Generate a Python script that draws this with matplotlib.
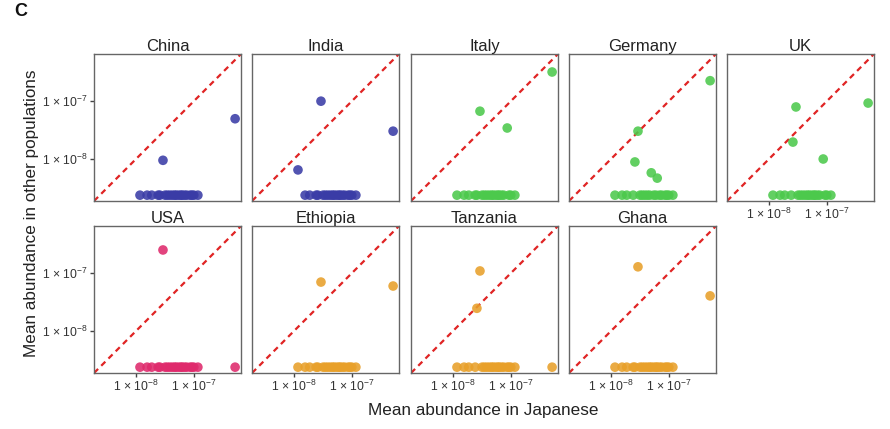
import numpy as np
import matplotlib
matplotlib.use("Agg")
import matplotlib.pyplot as plt
from matplotlib.ticker import FixedLocator, NullLocator

plt.rcParams['font.family'] = ['Liberation Sans', 'DejaVu Sans']
plt.rcParams['mathtext.default'] = 'regular'

# Mean abundance in Japanese (shared species set, 22 species)
japanese = [1.17e-8, 1.55e-8, 1.86e-8, 2.4e-8, 2.57e-8, 2.9e-8, 3.15e-8, 3.45e-8,
            3.8e-8, 4.2e-8, 4.6e-8, 4.9e-8, 5.4e-8, 5.9e-8, 6.2e-8, 6.8e-8,
            7.4e-8, 8.5e-8, 9.1e-8, 9.8e-8, 1.15e-7, 5.0e-7]

# Mean abundance in other populations (0 = not detected), same species order
#            0       1  2  3  4        5        6  7  8  9  10 11      12 13 14      15 16 17      18 19 20 21
china    = [0,      0, 0, 0, 0,       9.5e-9,  0, 0, 0, 0, 0, 0,      0, 0, 0,      0, 0, 0,      0, 0, 0, 4.9e-8]
india    = [6.5e-9, 0, 0, 0, 0,       9.8e-8,  0, 0, 0, 0, 0, 0,      0, 0, 0,      0, 0, 0,      0, 0, 0, 3.0e-8]
italy    = [0,      0, 0, 0, 0,       6.6e-8,  0, 0, 0, 0, 0, 0,      0, 0, 0,      0, 0, 3.4e-8, 0, 0, 0, 3.1e-7]
germany  = [0,      0, 0, 0, 8.9e-9,  3.0e-8,  0, 0, 0, 0, 0, 5.8e-9, 0, 0, 4.7e-9, 0, 0, 0,      0, 0, 0, 2.2e-7]
uk       = [0,      0, 0, 0, 1.95e-8, 7.8e-8,  0, 0, 0, 0, 0, 0,      0, 0, 0,      0, 0, 1.0e-8, 0, 0, 0, 9.1e-8]
usa      = [0,      0, 0, 0, 0,       2.45e-7, 0, 0, 0, 0, 0, 0,      0, 0, 0,      0, 0, 0,      0, 0, 0, 0]
ethiopia = [0,      0, 0, 0, 0,       6.9e-8,  0, 0, 0, 0, 0, 0,      0, 0, 0,      0, 0, 0,      0, 0, 0, 5.9e-8]
tanzania = [0,      0, 0, 0, 2.45e-8, 1.07e-7, 0, 0, 0, 0, 0, 0,      0, 0, 0,      0, 0, 0,      0, 0, 0, 0]
ghana    = [0,      0, 0, 0, 0,       1.26e-7, 0, 0, 0, 0, 0, 0,      0, 0, 0,      0, 0, 0,      0, 0, 0, 4.0e-8]

populations = ["China", "India", "Italy", "Germany", "UK",
               "USA", "Ethiopia", "Tanzania", "Ghana"]
values = [china, india, italy, germany, uk, usa, ethiopia, tanzania, ghana]
colors = ["#3a3ca6", "#3a3ca6", "#4cc94c", "#4cc94c", "#4cc94c",
          "#df2a6c", "#e8a02a", "#e8a02a", "#e8a02a"]

zero_floor = 10 ** -8.62
lo, hi = 10 ** -8.72, 10 ** -6.2
ticks = [1e-8, 1e-7]
tick_labels = [r'1 × 10$^{-8}$', r'1 × 10$^{-7}$']

W, H = 890, 429
fig = plt.figure(figsize=(W / 100, H / 100), dpi=100)

lefts = [94, 252, 411, 569, 727]
tops = [54, 226]
size = 147

for i, (name, vals, col) in enumerate(zip(populations, values, colors)):
    r, c = divmod(i, 5)
    ax = fig.add_axes([lefts[c] / W, 1 - (tops[r] + size) / H, size / W, size / H])
    ax.set_xscale('log')
    ax.set_yscale('log')
    ax.set_xlim(lo, hi)
    ax.set_ylim(lo, hi)
    ax.plot([lo, hi], [lo, hi], color='#e02424', lw=1.6, dashes=(2.6, 2.0), zorder=1)
    x = np.array(japanese)
    y = np.array(vals, dtype=float)
    y = np.where(y > 0, y, zero_floor)
    ax.scatter(x, y, s=48, color=col, alpha=0.88, edgecolors='none', zorder=3, clip_on=False)
    ax.set_title(name, fontsize=12, pad=2, color='#222222')
    for sp in ax.spines.values():
        sp.set_color('#666666')
        sp.set_linewidth(1.0)
    ax.xaxis.set_minor_locator(NullLocator())
    ax.yaxis.set_minor_locator(NullLocator())
    ax.xaxis.set_major_locator(FixedLocator(ticks))
    ax.yaxis.set_major_locator(FixedLocator(ticks))
    show_x = (r == 1) or (c == 4)
    show_y = (c == 0)
    ax.tick_params(axis='both', which='major', length=3, width=1, color='#444444',
                   labelsize=8.8, labelcolor='#333333', pad=1.5)
    if show_x:
        ax.set_xticklabels(tick_labels)
    else:
        ax.tick_params(axis='x', length=0, labelbottom=False)
    if show_y:
        ax.set_yticklabels(tick_labels)
    else:
        ax.tick_params(axis='y', length=0, labelleft=False)

fig.text(32 / W, 1 - 213 / H, "Mean abundance in other populations", rotation=90,
         ha='center', va='center', fontsize=12.3, color='#222222')
fig.text(483 / W, 1 - 410 / H, "Mean abundance in Japanese",
         ha='center', va='center', fontsize=12.3, color='#222222')
fig.text(14 / W, 1 - 11 / H, "C", ha='left', va='center', fontsize=13,
         fontweight='bold', color='#111111')

fig.savefig("out.png", dpi=100)
